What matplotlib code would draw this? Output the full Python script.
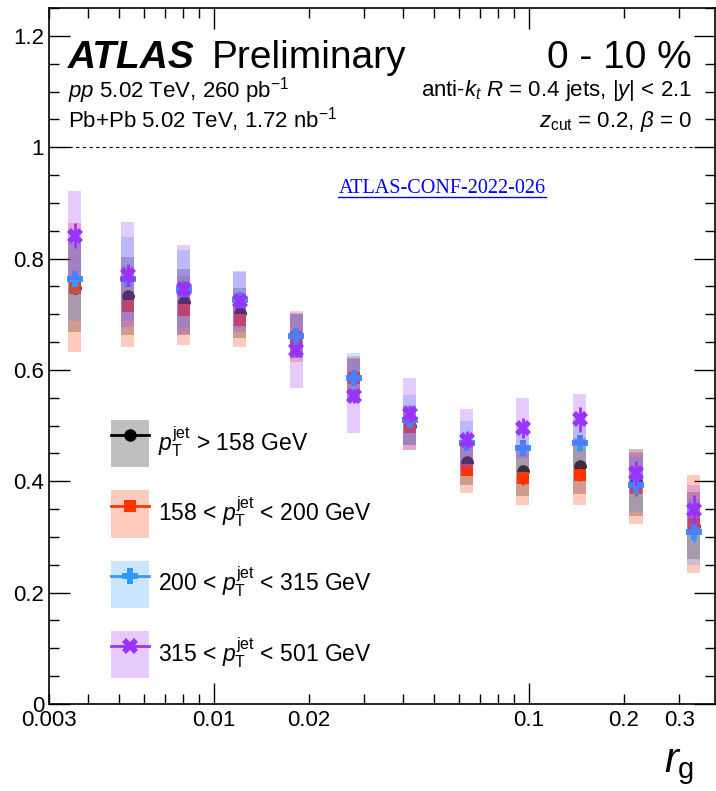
import numpy as np
import matplotlib
matplotlib.use("Agg")
import matplotlib.pyplot as plt
from matplotlib.patches import Patch
from matplotlib.lines import Line2D

plt.rcParams["font.family"] = "Liberation Sans"
plt.rcParams["mathtext.fontset"] = "custom"
plt.rcParams["mathtext.rm"] = "Liberation Sans"
plt.rcParams["mathtext.it"] = "Liberation Sans:italic"
plt.rcParams["mathtext.bf"] = "Liberation Sans:bold"

# r_g bin centres
rg = [0.00362, 0.00533, 0.00803, 0.0121, 0.0183, 0.0278,
      0.0419, 0.0636, 0.0957, 0.145, 0.219, 0.334]

# pT > 158 GeV
y_all = [0.748, 0.732, 0.722, 0.703, 0.661, 0.586, 0.500, 0.434, 0.418, 0.427, 0.398, 0.320]
sys_all = [0.080, 0.070, 0.060, 0.045, 0.040, 0.035, 0.035, 0.040, 0.045, 0.050, 0.060, 0.060]
stat_all = [0.008, 0.007, 0.006, 0.006, 0.006, 0.006, 0.007, 0.008, 0.009, 0.010, 0.012, 0.014]

# 158 < pT < 200 GeV
y_lo = [0.748, 0.714, 0.707, 0.690, 0.660, 0.585, 0.497, 0.421, 0.405, 0.412, 0.388, 0.324]
sys_lo = [0.115, 0.072, 0.062, 0.048, 0.045, 0.040, 0.040, 0.042, 0.047, 0.054, 0.065, 0.088]
stat_lo = [0.010, 0.009, 0.008, 0.008, 0.008, 0.008, 0.009, 0.010, 0.011, 0.012, 0.014, 0.016]

# 200 < pT < 315 GeV
y_mid = [0.763, 0.763, 0.745, 0.725, 0.661, 0.586, 0.510, 0.468, 0.460, 0.468, 0.394, 0.309]
sys_mid = [0.075, 0.075, 0.070, 0.050, 0.040, 0.045, 0.045, 0.040, 0.045, 0.045, 0.050, 0.060]
stat_mid = [0.012, 0.010, 0.009, 0.009, 0.009, 0.009, 0.010, 0.011, 0.012, 0.014, 0.016, 0.018]

# 315 < pT < 501 GeV
y_hi = [0.841, 0.771, 0.745, 0.723, 0.635, 0.553, 0.521, 0.475, 0.496, 0.511, 0.415, 0.349]
sys_hi = [0.080, 0.094, 0.080, 0.054, 0.068, 0.066, 0.065, 0.054, 0.054, 0.045, 0.035, 0.045]
stat_hi = [0.022, 0.020, 0.014, 0.012, 0.012, 0.012, 0.014, 0.016, 0.018, 0.022, 0.022, 0.026]

labels = [r"$p_{\mathrm{T}}^{\mathrm{jet}}$ > 158 GeV",
          r"158 < $p_{\mathrm{T}}^{\mathrm{jet}}$ < 200 GeV",
          r"200 < $p_{\mathrm{T}}^{\mathrm{jet}}$ < 315 GeV",
          r"315 < $p_{\mathrm{T}}^{\mathrm{jet}}$ < 501 GeV"]

series = [
    (y_all, sys_all, stat_all, "black", "o", 9),
    (y_lo, sys_lo, stat_lo, "#ff3300", "s", 8),
    (y_mid, sys_mid, stat_mid, "#3399ff", "P", 11),
    (y_hi, sys_hi, stat_hi, "#9933ff", "X", 11),
]

fig = plt.figure(figsize=(7.16, 7.91), dpi=100)
ax = fig.add_axes([49 / 716, 87 / 791, 666 / 716, 696 / 791])
ax.set_xscale("log")
ax.set_xlim(0.003, 0.39)
ax.set_ylim(0, 1.25)

x = np.array(rg)
hw = 0.021  # half box width in decades
left = x * 10 ** (-hw)
width = x * 10 ** hw - left

handles = []
for i, (y, sy, st, c, m, ms) in enumerate(series):
    y = np.array(y)
    sy = np.array(sy)
    ax.bar(left, 2 * sy, width=width, bottom=y - sy, align="edge",
           color=c, alpha=0.25, linewidth=0, zorder=2 + i)
    ax.errorbar(x, y, yerr=st, fmt=m, color=c, ms=ms, mew=0,
                elinewidth=2, capsize=0, zorder=2.5 + i)
    handles.append((Patch(facecolor=c, alpha=0.25, linewidth=0),
                    Line2D([], [], color=c, marker=m, ms=ms, mew=0, lw=2)))

ax.axhline(1, color="black", lw=0.8, ls=(0, (3, 3)), zorder=1)

# axis ticks
ax.set_xticks([0.01, 0.1], ["0.01", "0.1"])
minor = [k * 10.0 ** e for e in (-3, -2, -1) for k in range(2, 10)]
minor = [v for v in minor if 0.003 <= v <= 0.39]
lab_map = {0.003: "0.003", 0.02: "0.02", 0.2: "0.2", 0.3: "0.3"}
minor_labels = [next((s for k, s in lab_map.items() if abs(v - k) < 1e-9), "") for v in minor]
ax.set_xticks(minor, minor_labels, minor=True)
ax.set_yticks([0, 0.2, 0.4, 0.6, 0.8, 1.0, 1.2], ["0", "0.2", "0.4", "0.6", "0.8", "1", "1.2"])
ax.set_yticks(np.arange(0, 1.26, 0.05), minor=True)
ax.tick_params(which="both", direction="in", top=True, right=True, labelsize=16, width=1)
ax.tick_params(which="major", length=15)
ax.tick_params(which="minor", length=7)
ax.tick_params(axis="x", which="both", pad=4)
for s in ax.spines.values():
    s.set_linewidth(1.2)

ax.legend(handles=handles, labels=labels, loc="upper left",
          bbox_to_anchor=(0.093, 0.408), frameon=False, fontsize=16.5,
          handlelength=1.65, handleheight=2.8, labelspacing=1.0,
          handletextpad=0.4, borderpad=0, borderaxespad=0)

# header text
t_atlas = ax.text(0.0285, 0.914, "ATLAS", transform=ax.transAxes, fontsize=28,
                  fontweight="bold", fontstyle="italic", ha="left", va="baseline")
fig.canvas.draw()
bb = t_atlas.get_window_extent().transformed(ax.transAxes.inverted())
ax.text(bb.x1 + 0.025, 0.914, "Preliminary", transform=ax.transAxes, fontsize=28,
        ha="left", va="baseline")
ax.text(0.9655, 0.914, "0 - 10 %", transform=ax.transAxes, fontsize=28,
        ha="right", va="baseline")
ax.text(0.0285, 0.872, r"$pp$ 5.02 TeV, 260 pb$^{\mathrm{-1}}$", transform=ax.transAxes,
        fontsize=16, ha="left", va="baseline")
ax.text(0.0285, 0.828, r"Pb+Pb 5.02 TeV, 1.72 nb$^{\mathrm{-1}}$", transform=ax.transAxes,
        fontsize=16, ha="left", va="baseline")
ax.text(0.9655, 0.874, r"anti-$k_{t}$ $R$ = 0.4 jets, |$y$| < 2.1", transform=ax.transAxes,
        fontsize=16, ha="right", va="baseline")
ax.text(0.9655, 0.829, r"$z_{\mathrm{cut}}$ = 0.2, $\beta$ = 0", transform=ax.transAxes,
        fontsize=16, ha="right", va="baseline")

# note reference, underlined
t_conf = ax.text(0.590, 0.734, "ATLAS-CONF-2022-026", transform=ax.transAxes,
                 fontsize=14.5, family="Liberation Serif", color="#0000ee",
                 ha="center", va="baseline")
fig.canvas.draw()
cb = t_conf.get_window_extent().transformed(ax.transAxes.inverted())
ax.plot([cb.x0, cb.x1], [0.728, 0.728], transform=ax.transAxes,
        color="#0000ee", lw=1)

fig.text(0.969, 0.024, r"$r_{\mathrm{g}}$", fontsize=30, ha="right", va="baseline")

fig.savefig("out.png", dpi=100)
